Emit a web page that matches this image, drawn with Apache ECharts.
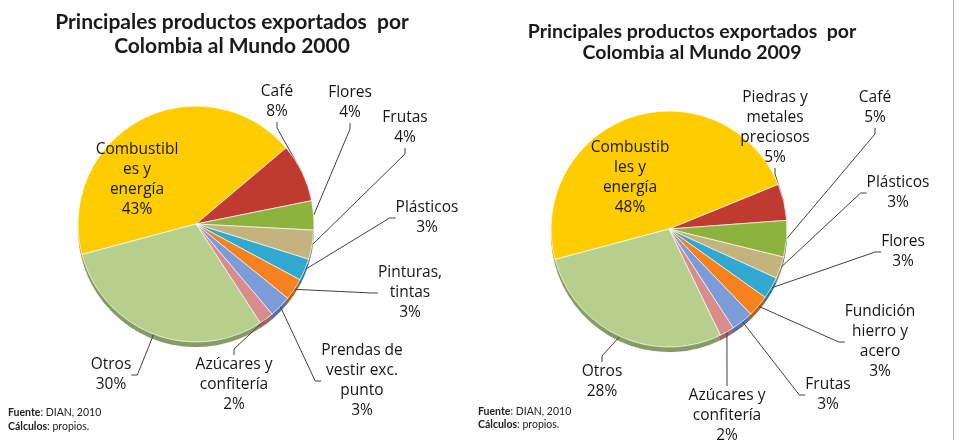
<!DOCTYPE html>
<html>
<head>
<meta charset="utf-8">
<script src="https://cdn.jsdelivr.net/npm/echarts@6/dist/echarts.min.js"></script>
<style>
html, body { margin: 0; padding: 0; background: #fff; }
#chart { width: 960px; height: 444px; }
</style>
</head>
<body>
<div id="chart"></div>
<script>
// data
const names2000 = ['Combustibl\nes y\nenergía', 'Café', 'Flores', 'Frutas', 'Plásticos', 'Pinturas,\ntintas', 'Prendas de\nvestir exc.\npunto', 'Azúcares y\nconfitería', 'Otros']
const values2000 = [43, 8, 4, 4, 3, 3, 3, 2, 30]

const names2009 = ['Combustib\nles y\nenergía', 'Piedras y\nmetales\npreciosos', 'Café', 'Plásticos', 'Flores', 'Fundición\nhierro y\nacero', 'Frutas', 'Azúcares y\nconfitería', 'Otros']
const values2009 = [48, 5, 5, 3, 3, 3, 3, 2, 28]

const colors = ['#FFCC00', '#BF3A31', '#8DB33E', '#C4B37C', '#31A8CF', '#F5821F', '#7C9CD9', '#D98C8C', '#B7CF8C']
const sideColors = ['#C99E00', '#8A2620', '#66852A', '#958658', '#207C99', '#B85D12', '#5670A3', '#A56565', '#869C62']

// label block centres (layout only)
const labelPos2000 = [[137, 180], [277, 102], [350, 103], [405, 128], [427, 218], [410, 293], [362, 381], [234, 385], [111, 375]]
const labelPos2009 = [[630, 178], [775, 128], [875, 108], [898, 193], [903, 252], [880, 342], [828, 395], [727, 416], [602, 382]]

const font = '"Open Sans", Lato, sans-serif'
const titleFont = 'Lato, "Open Sans", sans-serif'
const R = 118

const topPie = (names, values, center, pos) => ({
	type: 'pie',
	center: center,
	radius: R,
	startAngle: 195,
	z: 3,
	avoidLabelOverlap: false,
	label: {
		show: true,
		position: 'outside',
		formatter: (p) => p.name + '\n' + p.value + '%',
		color: '#161616',
		fontFamily: font,
		fontSize: 15.5,
		lineHeight: 20,
		overflow: 'none'
	},
	labelLine: {
		show: true,
		length: 8,
		length2: 6,
		lineStyle: { color: '#404040', width: 1 }
	},
	labelLayout: (p) => ({
		x: pos[p.dataIndex][0],
		y: pos[p.dataIndex][1],
		align: 'center',
		verticalAlign: 'middle'
	}),
	itemStyle: { borderColor: 'rgba(255,255,255,0.7)', borderWidth: 1 },
	emphasis: { disabled: true },
	data: values.map((v, i) => ({
		value: v,
		name: names[i],
		itemStyle: { color: colors[i] },
		labelLine: { show: i > 0 }
	}))
})

const sidePie = (values, center) => ({
	type: 'pie',
	center: [center[0], center[1] + 5],
	radius: R,
	startAngle: 195,
	z: 1,
	silent: true,
	label: { show: false },
	labelLine: { show: false },
	itemStyle: { borderColor: 'rgba(0,0,0,0.15)', borderWidth: 0.5 },
	data: values.map((v, i) => ({ value: v, itemStyle: { color: sideColors[i] } }))
})

const c2000 = [196, 224]
const c2009 = [669, 229]

const myChart = echarts.init(document.getElementById('chart'), null, { renderer: 'canvas' })
myChart.setOption({
	animation: false,
	backgroundColor: '#fff',
	graphic: [
		{
			type: 'text', x: 232, y: 10, z: 10,
			style: {
				text: 'Principales productos exportados  por\nColombia al Mundo 2000',
				textAlign: 'center', fill: '#1a1a1a',
				font: 'bold 21px ' + titleFont, lineHeight: 24
			}
		},
		{
			type: 'text', x: 692, y: 21, z: 10,
			style: {
				text: 'Principales productos exportados  por\nColombia al Mundo 2009',
				textAlign: 'center', fill: '#1a1a1a',
				font: 'bold 19.5px ' + titleFont, lineHeight: 21
			}
		},
		{
			type: 'text', x: 8, y: 406, z: 10,
			style: {
				text: '{b|Fuente}: DIAN, 2010\n{b|Cálculos}: propios.',
				fill: '#222', font: '10.5px ' + titleFont, lineHeight: 14,
				rich: { b: { fontWeight: 'bold', fontSize: 10.5, fontFamily: titleFont, lineHeight: 14 } }
			}
		},
		{
			type: 'text', x: 478, y: 405, z: 10,
			style: {
				text: '{b|Fuente}: DIAN, 2010\n{b|Cálculos}: propios.',
				fill: '#222', font: '10.5px ' + titleFont, lineHeight: 13,
				rich: { b: { fontWeight: 'bold', fontSize: 10.5, fontFamily: titleFont, lineHeight: 13 } }
			}
		},
		{
			type: 'line', z: 10,
			shape: { x1: 953.5, y1: 0, x2: 953.5, y2: 440 },
			style: { stroke: '#b0b0b0', lineWidth: 1 }
		}
	],
	series: [
		sidePie(values2000, c2000),
		sidePie(values2009, c2009),
		topPie(names2000, values2000, c2000, labelPos2000),
		topPie(names2009, values2009, c2009, labelPos2009)
	]
})
</script>
</body>
</html>
